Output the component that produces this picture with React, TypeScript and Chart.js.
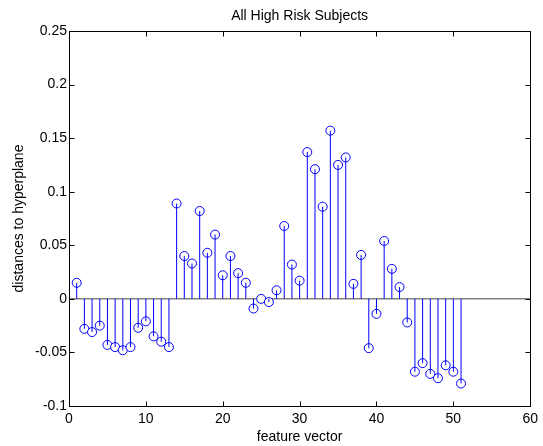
import React, { useEffect, useRef } from "react";
import { Chart, registerables } from "chart.js";

Chart.register(...registerables);

const TITLE = "All High Risk Subjects";
const X_LABEL = "feature vector";
const Y_LABEL = "distances to hyperplane";

const featureIndex = [
  1, 2, 3, 4, 5, 6, 7, 8, 9, 10, 11, 12, 13, 14, 15, 16, 17, 18, 19, 20,
  21, 22, 23, 24, 25, 26, 27, 28, 29, 30, 31, 32, 33, 34, 35, 36, 37, 38, 39, 40,
  41, 42, 43, 44, 45, 46, 47, 48, 49, 50, 51,
];

const distances = [
  0.015, -0.028, -0.031, -0.025, -0.043, -0.045, -0.048, -0.045, -0.027, -0.021,
  -0.035, -0.04, -0.045, 0.089, 0.04, 0.033, 0.082, 0.043, 0.06, 0.022,
  0.04, 0.024, 0.015, -0.009, 0.0, -0.003, 0.008, 0.068, 0.032, 0.017,
  0.137, 0.121, 0.086, 0.157, 0.125, 0.132, 0.014, 0.041, -0.046, -0.014,
  0.054, 0.028, 0.011, -0.022, -0.068, -0.06, -0.07, -0.074, -0.062, -0.068,
  -0.079,
];

const xTicks = [0, 10, 20, 30, 40, 50, 60];
const yTicks = [-0.1, -0.05, 0, 0.05, 0.1, 0.15, 0.2, 0.25];

const FONT = "'Liberation Sans', Arial, sans-serif";
const FONT_SIZE = 14;

const framePlugin = {
  id: "matlabFrame",
  beforeDatasetsDraw(chart: any) {
    const { ctx, chartArea, scales } = chart;
    const y0 = scales.y.getPixelForValue(0);
    ctx.save();
    ctx.strokeStyle = "#808080";
    ctx.lineWidth = 1.5;
    ctx.beginPath();
    ctx.moveTo(chartArea.left, y0);
    ctx.lineTo(chartArea.right, y0);
    ctx.stroke();
    ctx.restore();
  },
  afterDraw(chart: any) {
    const { ctx, chartArea, scales } = chart;
    const { left, right, top, bottom } = chartArea;
    ctx.save();
    ctx.strokeStyle = "#000";
    ctx.lineWidth = 1;
    const L = Math.round(left) + 0.5;
    const R = Math.round(right) + 0.5;
    const T = Math.round(top) + 0.5;
    const B = Math.round(bottom) + 0.5;
    ctx.beginPath();
    ctx.rect(L, T, R - L, B - T);
    ctx.stroke();
    const tl = 5;
    ctx.beginPath();
    xTicks.forEach((v) => {
      const px = Math.round(scales.x.getPixelForValue(v)) + 0.5;
      ctx.moveTo(px, B);
      ctx.lineTo(px, B - tl);
      ctx.moveTo(px, T);
      ctx.lineTo(px, T + tl);
    });
    yTicks.forEach((v) => {
      const py = Math.round(scales.y.getPixelForValue(v)) + 0.5;
      ctx.moveTo(L, py);
      ctx.lineTo(L + tl, py);
      ctx.moveTo(R, py);
      ctx.lineTo(R - tl, py);
    });
    ctx.stroke();

    ctx.fillStyle = "#000";
    ctx.font = `${FONT_SIZE}px ${FONT}`;
    ctx.textAlign = "center";
    ctx.textBaseline = "middle";
    const cx = (left + right) / 2;
    ctx.fillText(TITLE, cx, 16);
    ctx.fillText(X_LABEL, cx, 437);
    ctx.translate(19, (top + bottom) / 2);
    ctx.rotate(-Math.PI / 2);
    ctx.fillText(Y_LABEL, 0, 0);
    ctx.restore();
  },
};

export default function App() {
  const ref = useRef<HTMLCanvasElement | null>(null);

  useEffect(() => {
    document.body.style.margin = "0";
    const canvas = ref.current;
    if (!canvas) return;
    const points = featureIndex.map((x, i) => ({ x, y: distances[i] }));
    const chart = new Chart(canvas, {
      type: "scatter",
      data: {
        datasets: [
          {
            type: "bar",
            data: points,
            backgroundColor: "#0000ff",
            borderWidth: 0,
            barThickness: 1,
            inflateAmount: 0,
          } as any,
          {
            type: "scatter",
            data: points,
            pointStyle: "circle",
            pointRadius: 4.5,
            pointBorderWidth: 1,
            pointBorderColor: "#0000ff",
            pointBackgroundColor: "#ffffff",
            showLine: false,
          } as any,
        ],
      },
      options: {
        animation: false,
        responsive: false,
        events: [],
        layout: { padding: { top: 31, right: 8, left: 0, bottom: 0 } },
        plugins: {
          legend: { display: false },
          title: { display: false },
          tooltip: { enabled: false },
        },
        scales: {
          x: {
            type: "linear",
            min: 0,
            max: 60,
            offset: false,
            grid: { display: false, drawTicks: false },
            border: { display: false },
            ticks: {
              stepSize: 10,
              color: "#000",
              padding: 5,
              maxRotation: 0,
              font: { family: FONT, size: FONT_SIZE },
            },
            afterFit: (s: any) => {
              s.height = 40;
            },
          },
          y: {
            type: "linear",
            min: -0.1,
            max: 0.25,
            grid: { display: false, drawTicks: false },
            border: { display: false },
            ticks: {
              stepSize: 0.05,
              color: "#000",
              padding: 2,
              font: { family: FONT, size: FONT_SIZE },
              callback: (v: any) => String(Math.round(Number(v) * 100) / 100),
            },
            afterFit: (s: any) => {
              s.width = 69;
            },
          },
        },
      } as any,
      plugins: [framePlugin],
    });
    return () => chart.destroy();
  }, []);

  return (
    <canvas
      ref={ref}
      width={543}
      height={446}
      style={{ display: "block", width: 543, height: 446 }}
    />
  );
}
